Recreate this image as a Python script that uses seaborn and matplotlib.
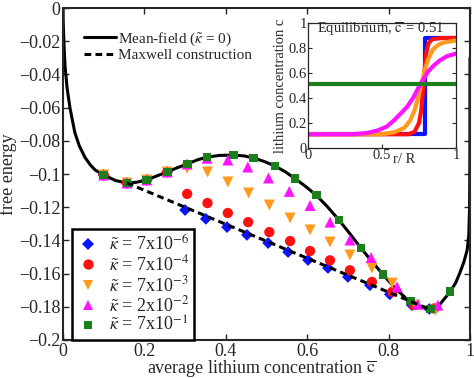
import numpy as np
import pandas as pd
import matplotlib
matplotlib.use("Agg")
import matplotlib.pyplot as plt
import seaborn as sns

##### DATA #####

# mean-field free energy curve (kappa = 0)
mf_c = [0.0, 0.0005, 0.0015, 0.003, 0.005, 0.01, 0.017, 0.029, 0.04, 0.054, 0.067, 0.079,
        0.1, 0.13, 0.157, 0.18, 0.206, 0.23, 0.256, 0.28, 0.305, 0.33, 0.354, 0.385,
        0.418, 0.445, 0.469, 0.495, 0.521, 0.545, 0.57, 0.595, 0.622, 0.65, 0.678,
        0.705, 0.732, 0.76, 0.786, 0.815, 0.85, 0.875, 0.899, 0.925, 0.951, 0.965,
        0.975, 0.985, 0.993, 0.997, 0.999, 0.9997, 1.0]
mf_f = [0.0, -0.008, -0.016, -0.025, -0.035, -0.048, -0.06, -0.075, -0.083, -0.09, -0.0945, -0.0976,
        -0.1006, -0.104, -0.1054, -0.105, -0.1036, -0.1012, -0.0988, -0.0963, -0.094, -0.0915, -0.0898, -0.0888,
        -0.0886, -0.0891, -0.0904, -0.0925, -0.0952, -0.0985, -0.1027, -0.1073, -0.1127, -0.1198, -0.1277,
        -0.136, -0.1446, -0.153, -0.1605, -0.1685, -0.1765, -0.1795, -0.1813, -0.1788, -0.171, -0.1655,
        -0.1596, -0.153, -0.1458, -0.137, -0.12, -0.09, -0.03]

# Maxwell common tangent
mx_c = [0.157, 0.899]
mx_f = [-0.1054, -0.1813]

# simulations for different gradient penalties
blue_c = [0.1, 0.157, 0.206, 0.256, 0.300, 0.351, 0.403, 0.452, 0.504, 0.553, 0.602, 0.651, 0.700, 0.754, 0.803, 0.857, 0.90]
blue_f = [-0.1006, -0.1054, -0.1036, -0.0988, -0.1217, -0.127, -0.132, -0.1367, -0.1416, -0.147, -0.1518, -0.1566, -0.162, -0.167, -0.1725, -0.179, -0.1813]

red_c = [0.1, 0.157, 0.206, 0.256, 0.305, 0.355, 0.405, 0.455, 0.507, 0.558, 0.607, 0.656, 0.705, 0.759, 0.809, 0.862, 0.912]
red_f = [-0.1006, -0.1054, -0.1036, -0.0988, -0.112, -0.1175, -0.1235, -0.129, -0.135, -0.1404, -0.1464, -0.152, -0.158, -0.165, -0.171, -0.179, -0.181]

orange_c = [0.1, 0.157, 0.206, 0.256, 0.305, 0.355, 0.405, 0.456, 0.507, 0.558, 0.607, 0.656, 0.705, 0.759, 0.809, 0.865, 0.915]
orange_f = [-0.1006, -0.1054, -0.1036, -0.0988, -0.0966, -0.0988, -0.1048, -0.1114, -0.1187, -0.1265, -0.1337, -0.141, -0.1488, -0.1566, -0.1657, -0.179, -0.182]

magenta_c = [0.1, 0.157, 0.206, 0.256, 0.305, 0.354, 0.405, 0.454, 0.505, 0.556, 0.607, 0.656, 0.705, 0.757, 0.821, 0.872, 0.921]
magenta_f = [-0.1006, -0.1054, -0.1036, -0.0988, -0.094, -0.0905, -0.0916, -0.0958, -0.1024, -0.1105, -0.119, -0.129, -0.1398, -0.1503, -0.168, -0.1785, -0.179]

green_c = [0.1, 0.157, 0.206, 0.256, 0.305, 0.354, 0.418, 0.469, 0.521, 0.570, 0.622, 0.678, 0.732, 0.786, 0.853, 0.902, 0.951]
green_f = [-0.1006, -0.1054, -0.1036, -0.0988, -0.094, -0.0898, -0.0886, -0.0904, -0.0952, -0.1027, -0.1127, -0.1277, -0.1446, -0.1605, -0.1765, -0.1813, -0.171]

kappa_labels = ["7x10$^{-6}$", "7x10$^{-4}$", "7x10$^{-3}$", "2x10$^{-2}$", "7x10$^{-1}$"]

# inset: equilibrium radial profiles at c_bar = 0.51
prof_blue_r = [0.0, 0.79, 0.79, 1.0]
prof_blue_c = [0.11, 0.11, 0.88, 0.88]
prof_red_r = [0.0, 0.68, 0.72, 0.75, 0.765, 0.78, 0.79, 0.80, 0.815, 0.84, 0.9, 1.0]
prof_red_c = [0.11, 0.11, 0.13, 0.2, 0.3, 0.5, 0.65, 0.77, 0.84, 0.87, 0.88, 0.88]
prof_orange_r = [0.0, 0.5, 0.58, 0.65, 0.69, 0.72, 0.745, 0.77, 0.79, 0.815, 0.845, 0.88, 0.92, 1.0]
prof_orange_c = [0.11, 0.11, 0.125, 0.16, 0.22, 0.3, 0.41, 0.53, 0.63, 0.72, 0.79, 0.825, 0.845, 0.86]
prof_magenta_r = [0.0, 0.3, 0.4, 0.47, 0.53, 0.58, 0.63, 0.67, 0.71, 0.745, 0.78, 0.81, 0.85, 0.89, 0.94, 1.0]
prof_magenta_c = [0.11, 0.11, 0.12, 0.14, 0.17, 0.22, 0.28, 0.33, 0.4, 0.48, 0.55, 0.61, 0.66, 0.70, 0.735, 0.755]
prof_green_r = [0.0, 1.0]
prof_green_c = [0.51, 0.51]

##### STYLE #####
sns.set_style("ticks")
plt.rcParams['font.family'] = ['Liberation Serif', 'DejaVu Serif']
plt.rcParams['mathtext.fontset'] = 'stix'
plt.rcParams['xtick.direction'] = 'in'
plt.rcParams['ytick.direction'] = 'in'

BLUE = '#0a14ff'
RED = '#ff1010'
ORANGE = '#ff9a1c'
MAGENTA = '#ff14ff'
GREEN = '#1c7f1c'

fig = plt.figure(figsize=(4.74, 3.78), dpi=100)
ax = fig.add_axes([63 / 474, 1 - 340 / 378, 407 / 474, 332 / 378])

# curves
sns.lineplot(x=mf_c, y=mf_f, sort=False, estimator=None, color='black', lw=2.2, ax=ax,
             label="Mean-field ($\\tilde{\\kappa}$ = 0)", zorder=2)
sns.lineplot(x=mx_c, y=mx_f, sort=False, estimator=None, color='black', lw=2.2, ax=ax,
             label="Maxwell construction", zorder=4)
ax.lines[1].set_dashes((2.2, 1.4))
line_leg = ax.legend(loc='upper left', bbox_to_anchor=(0.025, 0.965), frameon=False,
                     fontsize=11, handlelength=2.1, handletextpad=0.15, labelspacing=0.05,
                     borderpad=0.2)
ax.add_artist(line_leg)

# markers
series = [(blue_c, blue_f, 'D', BLUE, 36),
          (red_c, red_f, 'o', RED, 55),
          (orange_c, orange_f, 'v', ORANGE, 62),
          (magenta_c, magenta_f, '^', MAGENTA, 62),
          (green_c, green_f, 's', GREEN, 40)]
handles = []
for (c, f, m, col, s), lab in zip(series, kappa_labels):
    sns.scatterplot(x=c, y=f, marker=m, color=col, s=s, edgecolor='none', ax=ax, zorder=3, legend=False)
    handles.append(plt.Line2D([], [], ls='none', marker=m, color=col, markersize=np.sqrt(s),
                              markeredgewidth=0, label="$\\tilde{\\kappa}$ = " + lab))
kap_leg = ax.legend(handles=handles, loc='lower left', bbox_to_anchor=(0.022, 0.0), fontsize=13,
                    frameon=True, fancybox=False, edgecolor='black', framealpha=1,
                    handletextpad=0.55, labelspacing=0.02, borderpad=0.28, borderaxespad=0.0,
                    handlelength=1.2)
kap_leg.get_frame().set_linewidth(1.8)

ax.set_xlim(0, 1)
ax.set_ylim(-0.2, 0)
ax.set_xticks(np.arange(0, 1.01, 0.2))
ax.set_xticklabels(["0", "0.2", "0.4", "0.6", "0.8", "1"])
yt = np.arange(-0.2, 0.001, 0.02)
ax.set_yticks(yt)
ax.set_yticklabels(["\u22120.2", "\u22120.18", "\u22120.16", "\u22120.14", "\u22120.12", "\u22120.1",
                    "\u22120.08", "\u22120.06", "\u22120.04", "\u22120.02", "0"])
ax.tick_params(labelsize=13, length=4, width=1, top=True, right=True, pad=2)
for sp in ax.spines.values():
    sp.set_linewidth(1.5)
    sp.set_visible(True)
ax.set_xlabel("average lithium concentration $\\overline{\\mathrm{c}}$", fontsize=13)
ax.xaxis.set_label_coords(0.487, -0.055)
ax.set_ylabel("free energy", fontsize=13)
ax.yaxis.set_label_coords(-0.112, 0.5)

##### INSET #####
ins = fig.add_axes([308 / 474, 1 - 148 / 378, 148 / 474, 125 / 378])
ins.set_facecolor('white')
for r, c, col in [(prof_blue_r, prof_blue_c, BLUE), (prof_red_r, prof_red_c, RED),
                  (prof_orange_r, prof_orange_c, ORANGE), (prof_magenta_r, prof_magenta_c, MAGENTA),
                  (prof_green_r, prof_green_c, GREEN)]:
    sns.lineplot(x=r, y=c, sort=False, estimator=None, color=col, lw=3, ax=ins)
ins.set_xlim(0, 1)
ins.set_ylim(0, 1)
ins.set_xticks([0, 0.5, 1])
ins.set_xticklabels(["0", "0.5", "1"])
ins.set_yticks(np.arange(0, 1.01, 0.2))
ins.set_yticklabels(["0", "0.2", "0.4", "0.6", "0.8", "1"])
ins.tick_params(labelsize=10.5, length=3, width=0.8, top=True, right=True, pad=1)
for sp in ins.spines.values():
    sp.set_linewidth(0.9)
    sp.set_visible(True)
ins.set_ylabel("lithium concentration c", fontsize=10.5, labelpad=1)
ins.text(0.65, -0.04, "r/ R", fontsize=10.5, transform=ins.transAxes, va='top', ha='center')
ins.text(0.06, 0.95, "Equilibrium, $\\overline{\\mathrm{c}}$ = 0.51", fontsize=10.5,
         transform=ins.transAxes, va='center', ha='left')

fig.savefig("out.png", dpi=100)
